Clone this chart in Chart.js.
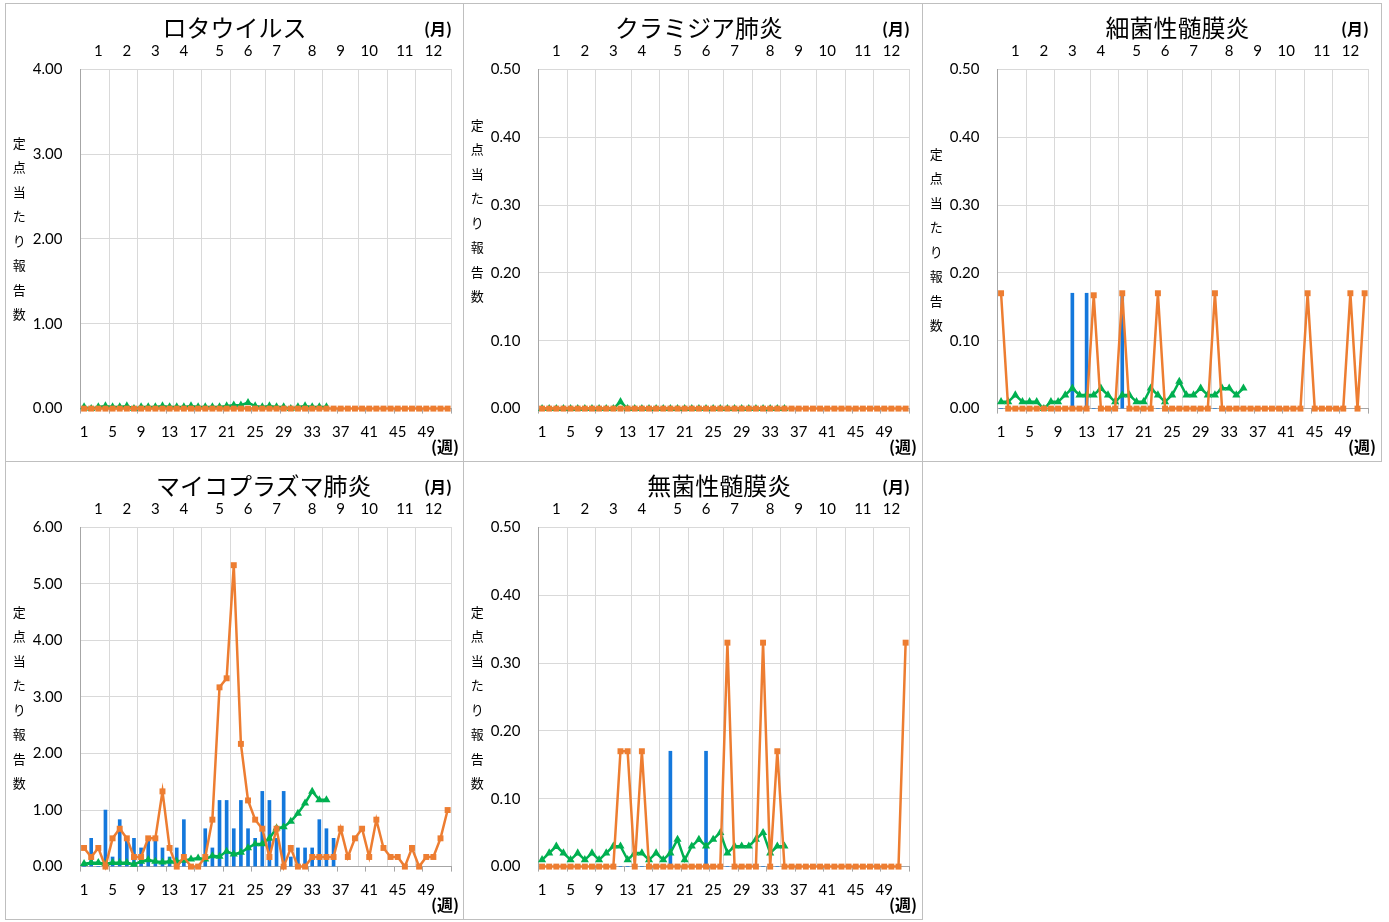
<!DOCTYPE html>
<html><head><meta charset="utf-8">
<script src="https://cdn.jsdelivr.net/npm/chart.js@4"></script>
<style>
html,body{margin:0;padding:0;background:#fff;}
body{width:1389px;height:922px;position:relative;overflow:hidden;font-family:'Noto Sans CJK JP',sans-serif;color:#000;}
.panel{position:absolute;box-sizing:border-box;border:1px solid #bfbfbf;background:#fff;}
.panel canvas{position:absolute;left:0;top:0;}
.title{position:absolute;font-size:24px;line-height:24px;white-space:nowrap;transform:translateX(-50%);}
.unit{position:absolute;font-weight:bold;font-size:16px;line-height:16px;white-space:nowrap;}
.ylab{position:absolute;font-size:13px;line-height:24.5px;width:16px;text-align:center;}
.ylab span{display:block;}
</style>
</head><body>
<script>
// ---------- data ----------
const weeks = [1,2,3,4,5,6,7,8,9,10,11,12,13,14,15,16,17,18,19,20,21,22,23,24,25,26,27,28,29,30,31,32,33,34,35,36,37,38,39,40,41,42,43,44,45,46,47,48,49,50,51,52];
const weekTickLabels = [1,5,9,13,17,21,25,29,33,37,41,45,49];
const weekTickMarks = [0.5,4.5,8.5,12.5,16.5,20.5,24.5,28.5,32.5,36.5,40.5,44.5,48.5,52.5];
const monthLabels = ['1','2','3','4','5','6','7','8','9','10','11','12'];
const monthTickWeeks = [3,7,11,15,20,24,28,33,37,41,46,50];
const monthBoundaries = [0.5,4.5,8.5,13.5,17.5,21.5,26.5,30.5,34.5,39.5,43.5,47.5,52.5];
const yAxisTitle = '定点当たり報告数';
const monthUnit = '(月)';
const weekUnit = '(週)';
const titles = ['ロタウイルス','クラミジア肺炎','細菌性髄膜炎','マイコプラズマ肺炎','無菌性髄膜炎'];
const yMax = [4, 0.5, 0.5, 6, 0.5];
const yStep = [1, 0.1, 0.1, 1, 0.1];

// ロタウイルス
const rotaCurrent = [0,0,0,0,0,0,0,0,0,0,0,0,0,0,0,0,0,0,0,0,0,0,0,0,0,0,0,0,0,0,0,0,0,0,0,0];
const rotaPrev = [0,0,0,0,0,0,0,0,0,0,0,0,0,0,0,0,0,0,0,0,0,0,0,0,0,0,0,0,0,0,0,0,0,0,0,0,0,0,0,0,0,0,0,0,0,0,0,0,0,0,0,0];
const rotaAvg = [0.02,0,0.02,0.03,0.02,0.02,0.03,0,0.02,0.02,0.02,0.03,0.02,0.02,0.02,0.03,0.02,0.02,0.02,0.02,0.03,0.04,0.04,0.07,0.03,0.02,0.03,0.02,0.02,0,0.02,0.03,0.02,0.02,0.02];

// クラミジア肺炎
const chlamCurrent = [0,0,0,0,0,0,0,0,0,0,0,0,0,0,0,0,0,0,0,0,0,0,0,0,0,0,0,0,0,0,0,0,0,0,0,0];
const chlamPrev = [0,0,0,0,0,0,0,0,0,0,0,0,0,0,0,0,0,0,0,0,0,0,0,0,0,0,0,0,0,0,0,0,0,0,0,0,0,0,0,0,0,0,0,0,0,0,0,0,0,0,0,0];
const chlamAvg = [0,0,0,0,0,0,0,0,0,0,0,0.01,0,0,0,0,0,0,0,0,0,0,0,0,0,0,0,0,0,0,0,0,0,0,0];

// 細菌性髄膜炎
const bactCurrent = [0,0,0,0,0,0,0,0,0,0,0.17,0,0.17,0,0,0,0,0.17,0,0,0,0,0,0,0,0,0,0,0,0,0,0,0,0,0,0];
const bactPrev = [0.17,0,0,0,0,0,0,0,0,0,0,0,0,0.167,0,0,0,0.17,0,0,0,0,0.17,0,0,0,0,0,0,0,0.17,0,0,0,0,0,0,0,0,0,0,0,0,0.17,0,0,0,0,0,0.17,0,0.17];
const bactAvg = [0.01,0.01,0.02,0.01,0.01,0.01,0,0.01,0.01,0.02,0.03,0.02,0.02,0.02,0.03,0.02,0.01,0.02,0.02,0.01,0.01,0.03,0.02,0.01,0.02,0.04,0.02,0.02,0.03,0.02,0.02,0.03,0.03,0.02,0.03];

// マイコプラズマ肺炎
const mycoCurrent = [0,0.5,0,1.0,0.17,0.83,0.5,0.5,0.33,0.5,0.5,0.33,0.17,0.33,0.83,0,0,0.67,0.33,1.17,1.17,0.67,1.17,0.67,0.5,1.33,1.17,0.5,1.33,0.17,0.33,0.33,0.33,0.83,0.67,0.5];
const mycoPrev = [0.33,0.17,0.33,0,0.5,0.67,0.5,0.17,0.17,0.5,0.5,1.33,0.33,0,0.17,0,0,0.17,0.83,3.17,3.33,5.33,2.17,1.17,0.83,0.67,0.17,0.67,0,0.33,0,0,0.17,0.17,0.17,0.17,0.67,0.17,0.5,0.67,0.17,0.83,0.33,0.17,0.17,0,0.33,0,0.17,0.17,0.5,1.0];
const mycoAvg = [0.05,0.07,0.07,0.05,0.07,0.07,0.07,0.04,0.09,0.12,0.09,0.08,0.09,0.09,0.11,0.13,0.15,0.13,0.19,0.18,0.27,0.22,0.25,0.33,0.40,0.40,0.50,0.68,0.70,0.80,0.94,1.12,1.33,1.18,1.18];

// 無菌性髄膜炎
const asepCurrent = [0,0,0,0,0,0,0,0,0,0,0,0,0,0,0,0,0,0,0.17,0,0,0,0,0.17,0,0,0,0,0,0,0,0,0,0,0,0];
const asepPrev = [0,0,0,0,0,0,0,0,0,0,0,0.17,0.17,0,0.17,0,0,0,0,0,0,0,0,0,0,0,0.33,0,0,0,0,0.33,0,0.17,0,0,0,0,0,0,0,0,0,0,0,0,0,0,0,0,0,0.33];
const asepAvg = [0.01,0.02,0.03,0.02,0.01,0.02,0.01,0.02,0.01,0.02,0.03,0.03,0.01,0.02,0.02,0.01,0.02,0.01,0.02,0.04,0.01,0.03,0.04,0.03,0.04,0.05,0.02,0.03,0.03,0.03,0.04,0.05,0.02,0.03,0.03];

// ---------- layout (positions only) ----------
const panels = [
  {left:5,   top:3,   w:459, h:459, titleX:228.5, yLabY:126.5},
  {left:463, top:3,   w:460, h:459, titleX:235,   yLabY:108.8},
  {left:922, top:3,   w:460, h:459, titleX:254.5, yLabY:137.8},
  {left:5,   top:461, w:459, h:459, titleX:257.7, yLabY:137.5},
  {left:463, top:461, w:460, h:459, titleX:255.3, yLabY:137.5}
];
const series = [
  [rotaCurrent, rotaPrev, rotaAvg],
  [chlamCurrent, chlamPrev, chlamAvg],
  [bactCurrent, bactPrev, bactAvg],
  [mycoCurrent, mycoPrev, mycoAvg],
  [asepCurrent, asepPrev, asepAvg]
];

const AREA = {left:74.5, top:65.3, right:445.2, bottom:404.6};
const COL_BLUE = '#1478DC', COL_ORANGE = '#ED7D31', COL_GREEN = '#00B050';
const GRID = '#d9d9d9', AXIS = '#a6a6a6';
const TICKFONT = {family:'Lato', size:15};

function toXY(arr){ return arr.map((v,i)=>({x:weeks[i], y:v})); }

panels.forEach((p, k) => {
  const div = document.createElement('div');
  div.className = 'panel';
  div.style.left = p.left + 'px'; div.style.top = p.top + 'px';
  div.style.width = p.w + 'px'; div.style.height = p.h + 'px';
  document.body.appendChild(div);
  const cw = p.w - 2, ch = p.h - 2;
  const cv = document.createElement('canvas');
  cv.width = cw; cv.height = ch;
  cv.style.width = cw + 'px'; cv.style.height = ch + 'px';
  div.appendChild(cv);

  const t = document.createElement('div');
  t.className = 'title'; t.textContent = titles[k];
  t.style.left = p.titleX + 'px'; t.style.top = '11.2px';
  div.appendChild(t);

  const mu = document.createElement('div');
  mu.className = 'unit'; mu.textContent = monthUnit;
  mu.style.left = '418px'; mu.style.top = '16px';
  div.appendChild(mu);

  const wu = document.createElement('div');
  wu.className = 'unit'; wu.textContent = weekUnit;
  wu.style.left = '425px'; wu.style.top = '433.5px';
  div.appendChild(wu);

  const yl = document.createElement('div');
  yl.className = 'ylab';
  yl.innerHTML = Array.from(yAxisTitle).map(c=>'<span>'+c+'</span>').join('');
  yl.style.left = '5.3px'; yl.style.top = p.yLabY + 'px';
  div.appendChild(yl);

  const [cur, prev, avg] = series[k];
  const bottomTotal = ch - AREA.bottom;

  new Chart(cv, {
    type: 'bar',
    data: { datasets: [
      { type:'line', label:'前年', data: toXY(prev), order:0,
        borderColor:COL_ORANGE, backgroundColor:COL_ORANGE, borderWidth:2.5,
        pointStyle:'rect', pointRadius:4.2, pointBorderWidth:0, pointHoverRadius:4.2,
        tension:0, clip:false },
      { type:'line', label:'過去5年平均', data: toXY(avg), order:1,
        borderColor:COL_GREEN, backgroundColor:COL_GREEN, borderWidth:2.5,
        pointStyle:'triangle', pointRadius:4.7, pointBorderWidth:0, pointHoverRadius:4.7,
        tension:0, clip:false },
      { type:'bar', label:'本年', data: toXY(cur), order:2,
        backgroundColor:COL_BLUE, borderWidth:0, barThickness:3, clip:false }
    ]},
    options: {
      responsive:false, animation:false, devicePixelRatio:1,
      layout:{padding:{left:0, top:0, right: cw - AREA.right, bottom:0}},
      plugins:{legend:{display:false}, tooltip:{enabled:false}, title:{display:false}},
      scales:{
        x: { type:'linear', position:'bottom', weight:1, min:0.5, max:52.5, offset:false,
             afterBuildTicks: s => { s.ticks = weekTickLabels.map(v=>({value:v})); },
             afterFit: s => { s.height = bottomTotal - 5; },
             ticks:{ font:TICKFONT, color:'#000', padding:9.5, autoSkip:false, maxRotation:0, minRotation:0,
                     callback: v => String(v) },
             grid:{ display:false, drawTicks:false, offset:false }, border:{display:false} },
        xt: { type:'linear', position:'bottom', weight:0, min:0.5, max:52.5, offset:false,
              afterBuildTicks: s => { s.ticks = weekTickMarks.map(v=>({value:v})); },
              afterFit: s => { s.height = 5; },
              ticks:{ display:false },
              grid:{ display:true, drawOnChartArea:false, drawTicks:true, tickLength:5, color:AXIS, lineWidth:1, offset:false },
              border:{ display:true, color:AXIS, width:1 } },
        xg: { type:'linear', position:'top', weight:0, min:0.5, max:52.5, offset:false,
              afterBuildTicks: s => { s.ticks = monthBoundaries.map(v=>({value:v})); },
              afterFit: s => { s.height = 0; },
              ticks:{ display:false },
              grid:{ display:true, drawOnChartArea:true, drawTicks:false, color:GRID, lineWidth:1, offset:false },
              border:{ display:false } },
        xm: { type:'linear', position:'top', weight:1, min:0.5, max:52.5, offset:false,
              afterBuildTicks: s => { s.ticks = monthTickWeeks.map(v=>({value:v})); },
              afterFit: s => { s.height = AREA.top; },
              ticks:{ font:TICKFONT, color:'#000', padding:9.3, autoSkip:false, maxRotation:0, minRotation:0,
                      callback: (v, i) => monthLabels[i] },
              grid:{ display:false, drawTicks:false, offset:false }, border:{display:false} },
        y: { type:'linear', position:'left', min:0, max:yMax[k],
             afterFit: s => { s.width = AREA.left; },
             ticks:{ stepSize:yStep[k], font:TICKFONT, color:'#000', padding:18,
                     callback: v => Number(v).toFixed(2) },
             grid:{ color:GRID, lineWidth:1, drawTicks:false },
             border:{ display:true, color:AXIS, width:1 } }
      }
    }
  });
});
</script>
</body></html>
